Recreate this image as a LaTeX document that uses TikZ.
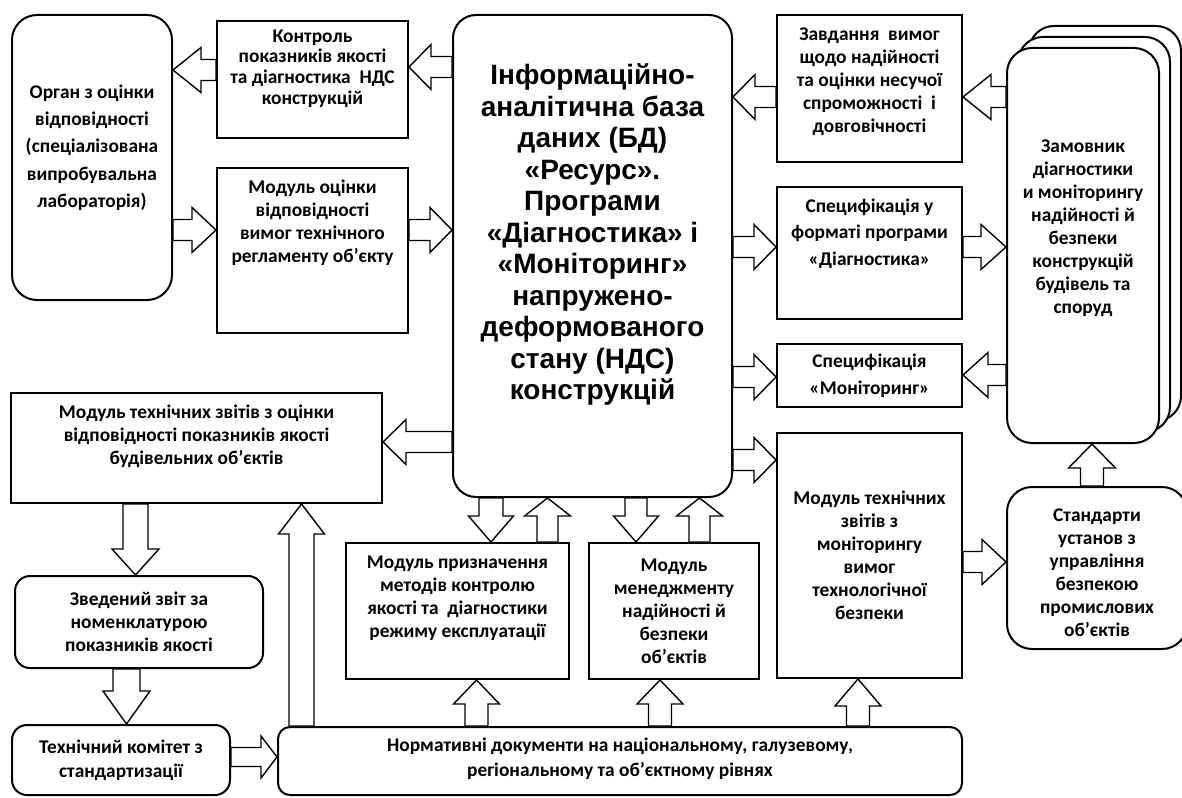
\documentclass[tikz,border=0pt]{standalone}
\usepackage{fontspec}
\setmainfont{Carlito}
\newfontfamily\arialfont{Liberation Sans}
\usetikzlibrary{calc,shadows}

\tikzset{
  box/.style={draw, line width=1pt, fill=white, inner sep=0pt},
  txt/.style={font=\bfseries\fontsize{9.7}{#1}\selectfont, align=center},
  txt/.default=11.5,
  bshaft/.store in=\bshaft, bshaft=5.25pt,
  bhead/.store in=\bhead, bhead=11.25pt,
  blen/.store in=\blen, blen=12pt,
  block/.style={draw, fill=white, line width=0.7pt, line join=miter,
    to path={
      ($(\tikztotarget)!\blen!(\tikztostart)$) coordinate (hb)
      ($(\tikztostart)!\bshaft!90:(\tikztotarget)$)
      -- ($(hb)!\bshaft!90:(\tikztotarget)$)
      -- ($(hb)!\bhead!90:(\tikztotarget)$)
      -- (\tikztotarget)
      -- ($(hb)!\bhead!-90:(\tikztotarget)$)
      -- ($(hb)!\bshaft!-90:(\tikztotarget)$)
      -- ($(\tikztostart)!\bshaft!-90:(\tikztotarget)$)
      -- cycle}}
}

\begin{document}
\begin{tikzpicture}[x=0.5pt, y=-0.5pt]
  \path[fill=white, use as bounding box] (0,0) rectangle (1182,797);

  \node[box, rounded corners=12.5pt, minimum width=80pt, minimum height=142.5pt,
    label={[txt=13.65, yshift=5pt]center:{Орган з оцінки\\відповідності\\(спеціалізована\\випробувальна\\лабораторія)}}] (organ) at (92,157.5) {};
  \node[box, minimum width=95.5pt, minimum height=58.5pt,
    label={[txt=10.3, yshift=5.5pt]center:{Контроль\\показників якості\\та діагностика\ \ НДС\\конструкцій}}] (kontrol) at (312.5,79.5) {};
  \node[box, minimum width=95.5pt, minimum height=82.5pt,
    label={[txt, yshift=14pt]center:{Модуль оцінки\\відповідності\\вимог технічного\\регламенту об’єкту}}] (ocinka) at (312.5,250.5) {};
  \node[box, rounded corners=11.5pt, minimum width=139.5pt, minimum height=241pt,
    label={[font=\arialfont\bfseries\fontsize{14}{15.75}\selectfont, align=center, yshift=10.75pt]center:{Інформаційно-\\аналітична база\\даних (БД)\\«Ресурс».\\Програми\\«Діагностика» і\\«Моніторинг»\\напружено-\\деформованого\\стану (НДС)\\конструкцій}}] (info) at (592.5,256) {};
  \node[box, minimum width=92.5pt, minimum height=73.5pt,
    label={[txt, yshift=3.5pt]center:{Завдання\ \ вимог\\щодо надійності\\та оцінки несучої\\спроможності\ \ і\\довговічності}}] (zavd) at (869.5,88.5) {};
  \node[box, minimum width=92.5pt, minimum height=66pt,
    label={[txt=13.3, yshift=9.75pt]center:{Специфікація у\\форматі програми\\«Діагностика»}}] (specdiag) at (869.5,253) {};
  \node[box, minimum width=92.5pt, minimum height=31.5pt,
    label={[txt=13.3]center:{Специфікація\\«Моніторинг»}}] (specmon) at (869.5,375.5) {};
  \node[box, minimum width=92.5pt, minimum height=122.5pt,
    label={[txt]center:{Модуль технічних\\звітів з\\моніторингу\\вимог\\технологічної\\безпеки}}] (zvitmon) at (869.5,555.5) {};
  \node[box, rounded corners=12.5pt, minimum width=76pt, minimum height=197.5pt,
    double copy shadow={shadow xshift=5.5pt, shadow yshift=5.5pt},
    label={[txt, yshift=8.5pt]center:{Замовник\\діагностики\\и моніторингу\\надійності й\\безпеки\\конструкцій\\будівель та\\споруд}}] (zamov) at (1083,245.5) {};
  \node[box, rounded corners=12.5pt, minimum width=90pt, minimum height=81pt,
    label={[txt, yshift=-2.25pt]center:{Стандарти\\установ з\\управління\\безпекою\\промислових\\об’єктів}}] (standart) at (1097,568) {};
  \node[box, minimum width=185.5pt, minimum height=55pt,
    label={[txt, yshift=5.75pt]center:{Модуль технічних звітів з оцінки\\відповідності показників якості\\будівельних об’єктів}}] (zvitleft) at (196.5,448) {};
  \node[box, rounded corners=7.5pt, minimum width=124pt, minimum height=46pt,
    label={[txt]center:{Зведений звіт за\\номенклатурою\\показників якості}}] (zved) at (139,622) {};
  \node[box, rounded corners=7.5pt, minimum width=109pt, minimum height=35pt,
    label={[txt=12]center:{Технічний комітет з\\стандартизації}}] (komitet) at (121,760) {};
  \node[box, rounded corners=6pt, minimum width=342pt, minimum height=34pt,
    label={[txt=12.5, yshift=1pt]center:{Нормативні документи на національному, галузевому,\\регіональному та об’єктному рівнях}}] (norm) at (620,761) {};
  \node[box, minimum width=111.5pt, minimum height=68pt,
    label={[txt, yshift=6.5pt]center:{Модуль призначення\\методів контролю\\якості та\ \ діагностики\\режиму експлуатації}}] (pryzn) at (457.5,611) {};
  \node[box, minimum width=85pt, minimum height=68pt,
    label={[txt]center:{Модуль\\менеджменту\\надійності й\\безпеки\\об’єктів}}] (menedzh) at (674,611) {};

  \draw[block, blen=14pt] (kontrol.west |- 0,70) to (organ.east |- 0,70);
  \draw[block] (organ.east |- 0,230) to (ocinka.west |- 0,230);
  \draw[block, blen=11pt] (info.west |- 0,67) to (kontrol.east |- 0,67);
  \draw[block, blen=11pt] (ocinka.east |- 0,230) to (info.west |- 0,230);
  \draw[block, blen=11pt] (zavd.west |- 0,97) to (info.east |- 0,97);
  \draw[block, blen=11pt] (info.east |- 0,247) to (specdiag.west |- 0,247);
  \draw[block, blen=11pt] (info.east |- 0,377) to (specmon.west |- 0,377);
  \draw[block, blen=11pt] (info.east |- 0,460) to (zvitmon.west |- 0,460);
  \draw[block, blen=14pt] (zamov.west |- 0,97) to (zavd.east |- 0,97);
  \draw[block, blen=12.5pt] (specdiag.east |- 0,247) to (zamov.west |- 0,247);
  \draw[block, blen=12.5pt] (zamov.west |- 0,375) to (specmon.east |- 0,375);
  \draw[block, blen=12pt] (zvitmon.east |- 0,562) to (standart.west |- 0,562);
  \draw[block, bshaft=5.75pt, bhead=11.75pt] (1092,0 |- standart.north) to (1092,0 |- zamov.south);
  \draw[block, blen=11.5pt] (info.west |- 0,442) to (zvitleft.east |- 0,442);
  \draw[block, bshaft=6.25pt, bhead=11.75pt, blen=13pt] (135.5,0 |- zvitleft.south) to (135.5,0 |- zved.north);
  \draw[block, bshaft=6.75pt, bhead=11.75pt, blen=16.5pt] (126.5,0 |- zved.south) to (126.5,0 |- komitet.north);
  \draw[block, bshaft=4.75pt, bhead=10.5pt, blen=8pt] (komitet.east |- 0,757) to (norm.west |- 0,757);
  \draw[block, bshaft=6.25pt, bhead=11.5pt, blen=15pt] (301.5,0 |- norm.north) to (301.5,0 |- zvitleft.south);
  \draw[block, bshaft=6pt, blen=13pt] (491,0 |- info.south) to (491,0 |- pryzn.north);
  \draw[block, bhead=11.5pt, blen=9pt] (547.5,0 |- pryzn.north) to (547.5,0 |- info.south);
  \draw[block, bshaft=5.5pt, blen=13pt] (636,0 |- info.south) to (636,0 |- menedzh.north);
  \draw[block, bhead=11.5pt, blen=9pt] (699.5,0 |- menedzh.north) to (699.5,0 |- info.south);
  \draw[block, bshaft=5.75pt, bhead=11.5pt] (476.5,0 |- norm.north) to (476.5,0 |- pryzn.south);
  \draw[block, bshaft=5.75pt, bhead=11.5pt] (660,0 |- norm.north) to (660,0 |- menedzh.south);
  \draw[block, bshaft=5.75pt, bhead=11.5pt, blen=13.5pt] (858,0 |- norm.north) to (858,0 |- zvitmon.south);
\end{tikzpicture}
\end{document}
